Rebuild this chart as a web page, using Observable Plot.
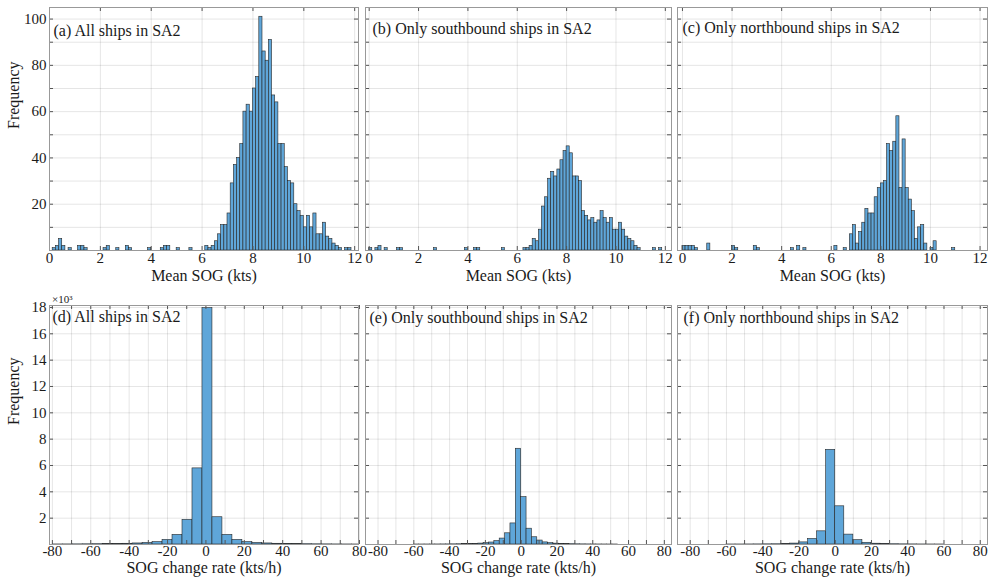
<!DOCTYPE html>
<html>
<head>
<meta charset="utf-8">
<script src="https://cdn.jsdelivr.net/npm/d3@7"></script>
<script src="https://cdn.jsdelivr.net/npm/@observablehq/plot@0.6"></script>
<style>
  html, body { margin: 0; padding: 0; background: #fff; }
  #chart { position: relative; width: 992px; height: 582px; overflow: hidden; }
  #chart svg { position: absolute; font-family: "Liberation Serif", "Times New Roman", serif !important; }
  #chart svg text { font-family: "Liberation Serif", "Times New Roman", serif !important; fill: #1a1a1a; }
</style>
</head>
<body>
<div id="chart"></div>
<script>
// ---------------- DATA ----------------
// Mean SOG histograms (kts): bin width 0.125, first bin starts at 0
const sogBinStart = 0;
const sogBinWidth = 0.125;
const sogAll = [
  0,1,2,5,2,0,1,0,      0,2,2,1,0,0,0,0,
  0,1,2,0,0,1,0,0,      2,1,0,0,0,0,0,1,
  0,0,0,1,2,2,0,0,      1,0,0,0,1,0,0,0,
  0,2,1,2,4,7,11,11,    16,29,37,40,46,60,63,60,
  70,75,101,86,82,91,67,64,  46,46,36,30,29,20,17,15,
  10,15,10,16,7,7,12,6, 5,3,2,1,0,1,1,0
];
const sogSouth = [
  1,0,1,2,0,1,0,0,      0,1,1,0,0,0,0,0,
  0,0,0,0,0,1,0,0,      0,0,0,0,0,0,0,1,
  0,0,1,1,0,0,0,0,      0,0,0,1,0,0,0,0,
  0,0,1,1,2,5,4,9,      19,23,31,34,32,35,39,43,
  45,42,32,32,30,17,15,13,   14,12,13,17,14,12,14,9,
  9,12,9,6,5,4,2,1,     0,0,0,0,1,0,1,0
];
const sogNorth = [
  2,2,2,2,1,0,0,0,      3,0,0,0,0,0,0,0,
  2,1,0,0,0,0,0,2,      1,0,0,0,0,0,0,0,
  0,0,0,1,0,2,0,1,      0,0,0,0,0,0,0,0,
  0,2,0,0,1,0,7,11,     3,8,12,18,16,16,23,27,
  29,30,46,43,47,58,27,48,   27,22,17,5,10,11,3,0,
  1,4,0,0,0,0,0,1,      0,0,0,0,0,0,0,0
];

// SOG change rate histograms (kts/h)
const rateAllStart = -79.8, rateAllWidth = 5.2;
const rateAll = [4,6,10,15,22,30,40,55,80,120,180,350,730,1870,5780,
                 17950,
                 2070,730,350,180,120,80,55,40,30,22,15,10,6,4,2];
const rateSouthStart = -60, rateSouthWidth = 3;
const rateSouth = [1,1,2,3,4,6,8,12,18,25, 35,50,70,100,150,260,450,850,1600,7270,
                   3600,1200,550,300,160,100,65,45,30,22, 15,10,7,5,3,2,1,1,0,0];
const rateNorthStart = -60, rateNorthWidth = 5;
const rateNorth = [2,3,5,8,12,18,30,70,160,420,1000,7190,
                   2900,750,330,130,60,35,20,12,8,5,3,2];

// Ticks, grids and labels
const sogTicks = [0, 2, 4, 6, 8, 10, 12];
const sogFreqGrid = [10, 20, 30, 40, 50, 60, 70, 80, 90, 100];
const sogFreqLabels = [20, 40, 60, 80, 100];
const rateTicks = [-80, -60, -40, -20, 0, 20, 40, 60, 80];
const rateGrid = [-80, -70, -60, -50, -40, -30, -20, -10, 0, 10, 20, 30, 40, 50, 60, 70, 80];
const rateFreqTicks = [2000, 4000, 6000, 8000, 10000, 12000, 14000, 16000, 18000];

const panelTitles = [
  "(a) All ships in SA2",
  "(b) Only southbound ships in SA2",
  "(c) Only northbound ships in SA2",
  "(d) All ships in SA2",
  "(e) Only southbound ships in SA2",
  "(f) Only northbound ships in SA2"
];
const sogAxisTitle = "Mean SOG (kts)";
const rateAxisTitle = "SOG change rate (kts/h)";
const yAxisTitle = "Frequency";
const rateExponent = "×10³";

// ---------------- DRAWING ----------------
const FONT = '"Liberation Serif", "Times New Roman", serif';
const BAR_FILL = "#5fa6d9";
const BAR_EDGE = "#262626";

function toBins(counts, start, width) {
  return counts
    .map((c, i) => ({x1: start + i * width, x2: start + (i + 1) * width, count: c}))
    .filter(d => d.count > 0);
}
const fmtSigned = d => (d < 0 ? "-" + Math.abs(d) : String(d));

function panel(cfg) {
  const fw = cfg.width - cfg.ml - cfg.mr;
  const fh = cfg.height - cfg.mt - cfg.mb;
  const tl = 4;
  const marks = [
    Plot.gridX(cfg.xGrid, {stroke: "#000", strokeOpacity: 0.1}),
    Plot.gridY(cfg.yGrid, {stroke: "#000", strokeOpacity: 0.1}),
    Plot.rectY(cfg.bins, {x1: "x1", x2: "x2", y: "count", fill: BAR_FILL,
      stroke: BAR_EDGE, strokeWidth: 0.6, clip: true}),
    Plot.tickX(cfg.xGrid, {x: d => d, insetTop: fh - tl, stroke: "#555"}),
    Plot.tickX(cfg.xGrid, {x: d => d, insetBottom: fh - tl, stroke: "#555"}),
    Plot.tickY(cfg.yGrid, {y: d => d, insetRight: fw - tl, stroke: "#555"}),
    Plot.tickY(cfg.yGrid, {y: d => d, insetLeft: fw - tl, stroke: "#555"}),
    Plot.frame({stroke: "#999"}),
    Plot.axisX(cfg.xTicks, {tickSize: 0, tickPadding: cfg.xtp, label: null, tickFormat: fmtSigned,
      fontFamily: FONT, fontSize: 15}),
    Plot.text([cfg.title], {frameAnchor: "top-left", textAnchor: "start", lineAnchor: "top",
      dx: cfg.tdx, dy: cfg.tdy, fontSize: 16, fontFamily: FONT}),
    Plot.text([cfg.xTitle], {frameAnchor: "bottom", lineAnchor: "top", dy: cfg.xtdy,
      fontSize: 16, fontFamily: FONT})
  ];
  if (cfg.yLabels) {
    marks.push(Plot.axisY(cfg.yLabels, {tickSize: 0, tickPadding: 3, label: null,
      tickFormat: cfg.yFormat || (d => String(d)), fontFamily: FONT, fontSize: 15}));
    marks.push(Plot.text([yAxisTitle], {frameAnchor: "left", rotate: -90, dx: -35.5,
      fontSize: 16, fontFamily: FONT}));
  }
  if (cfg.exponent) {
    marks.push(Plot.text([cfg.exponent], {frameAnchor: "top-left", textAnchor: "start",
      lineAnchor: "bottom", dx: 2.5, dy: -2.5, fontSize: 11, fontFamily: FONT}));
  }
  const svg = Plot.plot({
    width: cfg.width, height: cfg.height,
    marginLeft: cfg.ml, marginRight: cfg.mr, marginTop: cfg.mt, marginBottom: cfg.mb,
    x: {domain: cfg.xDomain, axis: null},
    y: {domain: cfg.yDomain, axis: null},
    style: {fontFamily: FONT, fontSize: "15px", color: "#1a1a1a", background: "transparent", overflow: "visible"},
    marks
  });
  svg.style.left = cfg.left + "px";
  svg.style.top = cfg.top + "px";
  document.getElementById("chart").appendChild(svg);
}

const cols = [
  {left: 0,   width: 361, ml: 49, mr: 3},
  {left: 361, width: 313, ml: 4,  mr: 3},
  {left: 674, width: 318, ml: 3,  mr: 5}
];
const topRow = {top: 0, height: 290, mt: 7, mb: 40};
const botRow = {top: 290, height: 292, mt: 15, mb: 38};

const sogSeries = [sogAll, sogSouth, sogNorth];
const sogDomains = [[0, 12.15], [-0.15, 12.25], [-0.2, 12.3]];
const topTitleOffsets = [[4, 17], [7, 15.5], [5, 14.5]];
sogSeries.forEach((counts, i) => {
  panel({
    ...cols[i], ...topRow,
    bins: toBins(counts, sogBinStart, sogBinWidth),
    xDomain: sogDomains[i], yDomain: [0, 105],
    xGrid: sogTicks, xTicks: sogTicks, xtp: 2,
    yGrid: sogFreqGrid, yLabels: i === 0 ? sogFreqLabels : null,
    title: panelTitles[i], tdx: topTitleOffsets[i][0], tdy: topTitleOffsets[i][1],
    xTitle: sogAxisTitle, xtdy: 19.5
  });
});

const rateSeries = [
  toBins(rateAll, rateAllStart, rateAllWidth),
  toBins(rateSouth, rateSouthStart, rateSouthWidth),
  toBins(rateNorth, rateNorthStart, rateNorthWidth)
];
const rateDomains = [[-81.5, 79.5], [-87, 84], [-87, 84]];
const botTitleOffsets = [[3, 5], [4, 6.5], [6, 6.5]];
rateSeries.forEach((bins, i) => {
  panel({
    ...cols[i], ...botRow,
    bins,
    xDomain: rateDomains[i], yDomain: [0, 18150],
    xGrid: rateGrid, xTicks: rateTicks, xtp: 1,
    yGrid: rateFreqTicks, yLabels: i === 0 ? rateFreqTicks : null,
    yFormat: d => String(d / 1000),
    exponent: i === 0 ? rateExponent : null,
    title: panelTitles[3 + i], tdx: botTitleOffsets[i][0], tdy: botTitleOffsets[i][1],
    xTitle: rateAxisTitle, xtdy: 17
  });
});
</script>
</body>
</html>
